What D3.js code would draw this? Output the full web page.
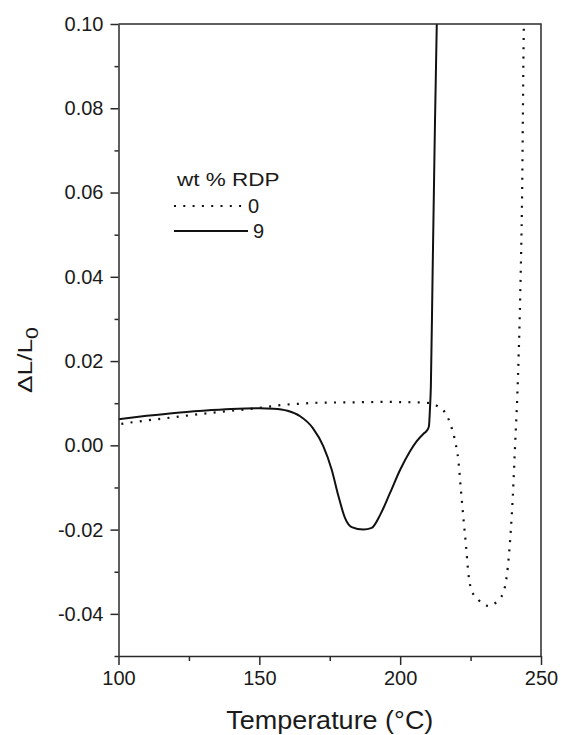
<!DOCTYPE html>
<html lang="en">
<head>
  <meta charset="UTF-8">
  <title>Dilatometry: wt % RDP</title>
  <script src="https://d3js.org/d3.v7.min.js"></script>
  <style>
    body { margin: 0; background: white; }
    text { font-family: "Liberation Sans", Arial, sans-serif; fill: #1a1a1a; }
    .axis path, .axis line { stroke: #2a2a2a; stroke-width: 1.5; }
    .axis text { font-size: 20px; fill: #1a1a1a; font-family: "Liberation Sans", Arial, sans-serif; }
  </style>
</head>
<body>
<div id="chart"></div>
<script>
  // series "0" wt % RDP (dotted)
  const temp0 = [101, 103, 110, 120, 130, 140, 146.5, 150, 158.5, 165, 170, 182, 195, 205, 209.4, 213, 216, 217.7, 219.5, 220.7, 221.5, 222.4, 223.4, 224.2, 225.4, 227.8, 231.3, 234.9, 236.9, 238.2, 239.2, 240.0, 240.8, 241.6, 242.6, 243.3, 243.9, 244.1];
  const dl0   = [0.0051, 0.0053, 0.0059, 0.0067, 0.0075, 0.0082, 0.0086, 0.0089, 0.0096, 0.0099, 0.0101, 0.0102, 0.0103, 0.0102, 0.0101, 0.0094, 0.0077, 0.0053, 0.0010, -0.0038, -0.0101, -0.0169, -0.0240, -0.0303, -0.0345, -0.0367, -0.0381, -0.0367, -0.0344, -0.0290, -0.0210, -0.0120, 0.0000, 0.0120, 0.0350, 0.0600, 0.0990, 0.1050];
  // series "9" wt % RDP (solid)
  const temp9 = [100, 110, 120, 130, 140, 150, 155, 160, 164.5, 169, 172.7, 175.7, 178.1, 180.4, 182.8, 186.9, 189.9, 192.9, 196.4, 200, 203.5, 205.9, 208.2, 209.5, 210.2, 210.6, 210.9, 211.5, 212.2, 213.0, 213.2];
  const dl9   = [0.0062, 0.0070, 0.0077, 0.0082, 0.0086, 0.0088, 0.0087, 0.0082, 0.0069, 0.0041, -0.0002, -0.0058, -0.0121, -0.0172, -0.0194, -0.0200, -0.0196, -0.0165, -0.0113, -0.0058, -0.0014, 0.0010, 0.0027, 0.0035, 0.0045, 0.0090, 0.0140, 0.0400, 0.0700, 0.1000, 0.1050];

  const xTicks = [100, 150, 200, 250];
  const xMinor = [125, 175, 225];
  const yTicks = [-0.04, -0.02, 0.00, 0.02, 0.04, 0.06, 0.08, 0.10];
  const yMinor = [-0.05, -0.03, -0.01, 0.01, 0.03, 0.05, 0.07, 0.09];

  const width = 561, height = 735;
  const mLeft = 118.5, mRight = 541, mTop = 24, mBottom = 656;

  const svg = d3.select("#chart").append("svg")
    .attr("width", width)
    .attr("height", height);

  const x = d3.scaleLinear().domain([100, 250]).range([mLeft, mRight]);
  const y = d3.scaleLinear().domain([-0.05, 0.10]).range([mBottom, mTop]);

  svg.append("defs").append("clipPath").attr("id", "clip")
    .append("rect").attr("x", mLeft).attr("y", mTop)
    .attr("width", mRight - mLeft).attr("height", mBottom - mTop);

  const line = d3.line()
    .x(d => x(d[0]))
    .y(d => y(d[1]))
    .curve(d3.curveMonotoneX);

  const plot = svg.append("g").attr("clip-path", "url(#clip)");

  plot.append("path")
    .datum(temp0.map((t, i) => [t, dl0[i]]))
    .attr("d", line)
    .attr("fill", "none")
    .attr("stroke", "#111")
    .attr("stroke-width", 2.2)
    .attr("stroke-dasharray", "2 7.3");

  plot.append("path")
    .datum(temp9.map((t, i) => [t, dl9[i]]))
    .attr("d", line)
    .attr("fill", "none")
    .attr("stroke", "#111")
    .attr("stroke-width", 2);

  // minor ticks first, then major axes
  svg.append("g")
    .attr("class", "axis")
    .attr("transform", `translate(0,${mBottom})`)
    .call(d3.axisBottom(x).tickValues(xMinor).tickSize(5).tickFormat(""))
    .call(g => g.select(".domain").remove());

  svg.append("g")
    .attr("class", "axis")
    .attr("transform", `translate(${mLeft},0)`)
    .call(d3.axisLeft(y).tickValues(yMinor).tickSize(4).tickFormat(""))
    .call(g => g.select(".domain").remove());

  svg.append("g")
    .attr("class", "axis")
    .attr("transform", `translate(0,${mBottom})`)
    .call(d3.axisBottom(x).tickValues(xTicks).tickSize(9).tickPadding(6).tickSizeOuter(0).tickFormat(d3.format("d")));

  // plain hyphen for negatives, as in the original
  const yFmt = d => d3.format(".2f")(d).replace("−", "-");
  svg.append("g")
    .attr("class", "axis")
    .attr("transform", `translate(${mLeft},0)`)
    .call(d3.axisLeft(y).tickValues(yTicks).tickSize(8).tickPadding(7).tickSizeOuter(0).tickFormat(yFmt));

  // top and right frame
  svg.append("path")
    .attr("d", `M${mLeft},${mTop}H${mRight}V${mBottom}`)
    .attr("fill", "none")
    .attr("stroke", "#2a2a2a")
    .attr("stroke-width", 1.5);

  // axis titles
  svg.append("text")
    .attr("transform", `translate(${(mLeft + mRight) / 2},729) scale(1.08,1)`)
    .attr("text-anchor", "middle")
    .style("font-size", "25px")
    .text("Temperature (°C)");

  const yl = svg.append("text")
    .attr("transform", "translate(32,360) rotate(-90) scale(1.25,1)")
    .attr("text-anchor", "middle")
    .style("font-size", "21px");
  yl.append("tspan").text("ΔL/L");
  yl.append("tspan").attr("dy", 6).style("font-size", "17px").text("0");

  // legend
  svg.append("text")
    .attr("transform", "translate(177,186) scale(1.25,1)")
    .style("font-size", "18px")
    .text("wt % RDP");

  const legendItems = [
    {label: "0", dash: "2 7.3", yy: 206, x2: 243},
    {label: "9", dash: null, yy: 231, x2: 248}
  ];
  legendItems.forEach(d => {
    svg.append("line")
      .attr("x1", 174).attr("x2", d.x2)
      .attr("y1", d.yy).attr("y2", d.yy)
      .attr("stroke", "#111")
      .attr("stroke-width", d.dash ? 2 : 1.8)
      .attr("stroke-dasharray", d.dash);
    svg.append("text")
      .attr("x", d.x2 + 5)
      .attr("y", d.yy + 7)
      .style("font-size", "20px")
      .text(d.label);
  });
</script>
</body>
</html>
